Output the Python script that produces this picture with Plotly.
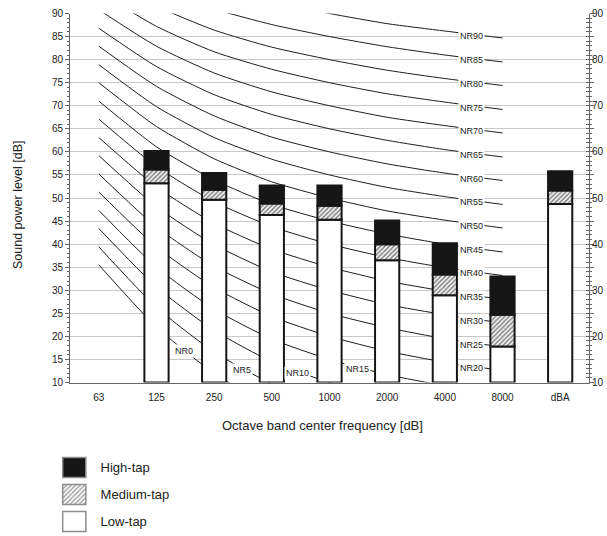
import plotly.graph_objects as go

# ---- data -------------------------------------------------------------
bands = ["63", "125", "250", "500", "1000", "2000", "4000", "8000", "dBA"]

# cumulative sound power level reached by each fan tap [dB]
low_tap = [None, 53.2, 49.6, 46.3, 45.3, 36.5, 28.9, 17.8, 48.7]
medium_tap = [None, 56.2, 51.8, 48.8, 48.3, 40.0, 33.4, 24.7, 51.6]
high_tap = [None, 60.2, 55.4, 52.7, 52.7, 45.1, 40.2, 33.0, 55.8]

legend_names = ["High-tap", "Medium-tap", "Low-tap"]

# Noise Rating (NR) curve table, one list per octave band
nr_levels = [0, 5, 10, 15, 20, 25, 30, 35, 40, 45, 50, 55, 60, 65, 70, 75, 80, 85, 90]
nr_63 = [35.5, 39.4, 43.4, 47.3, 51.3, 55.2, 59.2, 63.1, 67.1, 71.0,
         75.0, 78.9, 82.9, 86.8, 90.8, 94.7, 98.7, 102.6, 106.6]
nr_125 = [22.0, 26.3, 30.7, 35.0, 39.4, 43.7, 48.1, 52.4, 56.8, 61.1,
          65.5, 69.8, 74.2, 78.5, 82.9, 87.2, 91.6, 95.9, 100.3]
nr_250 = [12.0, 16.6, 21.3, 25.9, 30.6, 35.2, 39.9, 44.5, 49.2, 53.9,
          58.5, 63.1, 67.8, 72.4, 77.1, 81.7, 86.4, 91.0, 95.7]
nr_500 = [4.8, 9.7, 14.5, 19.4, 24.3, 29.2, 34.0, 38.9, 43.8, 48.6,
          53.5, 58.4, 63.2, 68.1, 73.0, 77.9, 82.7, 87.6, 92.5]
nr_1000 = [0.0, 5.0, 10.0, 15.0, 20.0, 25.0, 30.0, 35.0, 40.0, 45.0,
           50.0, 55.0, 60.0, 65.0, 70.0, 75.0, 80.0, 85.0, 90.0]
nr_2000 = [-3.5, 1.6, 6.6, 11.7, 16.8, 21.9, 26.9, 32.0, 37.1, 42.2,
           47.2, 52.3, 57.4, 62.5, 67.5, 72.6, 77.7, 82.8, 87.8]
nr_4000 = [-6.1, -1.0, 4.2, 9.3, 14.4, 19.5, 24.7, 29.8, 34.9, 40.0,
           45.2, 50.3, 55.4, 60.5, 65.7, 70.8, 75.9, 81.0, 86.2]
nr_8000 = [-8.0, -2.8, 2.3, 7.4, 12.6, 17.7, 22.9, 28.0, 33.2, 38.3,
           43.5, 48.6, 53.8, 58.9, 64.1, 69.2, 74.4, 79.5, 84.7]

# ---- layout helpers ---------------------------------------------------
W, H = 607, 536
ML, MR, MT, MB = 40, 18, 13, 0
PW, PH = W - ML - MR, H - MT - MB


def px_x(px):
    return (px - ML) / PW


def px_y(py):
    return 1 - (py - MT) / PH


FLOOR, CEIL = 10, 90
FONT = "Liberation Sans, Arial, sans-serif"
INK = "#161616"
AXIS = "#666666"
GRID = "#c8c8c8"

fig = go.Figure()

# ---- NR curves (drawn on the lower axis so the bars cover them) --------
nr_columns = [nr_63, nr_125, nr_250, nr_500, nr_1000, nr_2000, nr_4000, nr_8000]
curve_bands = bands[:8]
label_pos = {0: 1.48, 5: 2.49, 10: 3.44, 15: 4.49}

for k, level in enumerate(nr_levels):
    row = [col[k] for col in nr_columns]
    fig.add_trace(go.Scatter(
        x=curve_bands, y=row, mode="lines",
        line=dict(color="#1e1e1e", width=1, shape="spline", smoothing=0.6),
        xaxis="x", yaxis="y", hoverinfo="skip", showlegend=False,
    ))
    pos = label_pos.get(level, 6.47)
    i = int(pos)
    t = pos - i
    ylab = row[i] + t * (row[i + 1] - row[i])
    fig.add_annotation(
        x=pos, y=ylab, xref="x", yref="y", text=f"NR{level}",
        xanchor="center", yanchor="middle",
        showarrow=False, yshift=-2, bgcolor="white", borderpad=1,
        font=dict(family=FONT, size=9, color="#222"),
    )

# ---- stacked tap bars --------------------------------------------------
idx = [i for i, v in enumerate(low_tap) if v is not None]
cats = [bands[i] for i in idx]
BAR_W = 0.42
bar_line = dict(color=INK, width=2)

fig.add_trace(go.Bar(
    x=cats, y=[low_tap[i] - FLOOR for i in idx], base=FLOOR, width=BAR_W,
    marker=dict(color="white", line=bar_line),
    xaxis="x", yaxis="y2", name="Low-tap", hoverinfo="skip", showlegend=False,
))
fig.add_trace(go.Bar(
    x=cats, y=[medium_tap[i] - low_tap[i] for i in idx],
    base=[low_tap[i] for i in idx], width=BAR_W,
    marker=dict(color="white", line=bar_line,
                pattern=dict(shape="/", fgcolor=INK, bgcolor="white",
                             size=3.2, solidity=0.55)),
    xaxis="x", yaxis="y2", name="Medium-tap", hoverinfo="skip", showlegend=False,
))
fig.add_trace(go.Bar(
    x=cats, y=[high_tap[i] - medium_tap[i] for i in idx],
    base=[medium_tap[i] for i in idx], width=BAR_W,
    marker=dict(color=INK, line=bar_line),
    xaxis="x", yaxis="y2", name="High-tap", hoverinfo="skip", showlegend=False,
))

# ---- legend swatches as a tiny horizontal bar chart ---------------------
fig.add_trace(go.Bar(
    y=legend_names, x=[1, 1, 1], base=0, orientation="h", width=0.74,
    marker=dict(color=[INK, "white", "white"],
                line=dict(color="#8c8c8c", width=1.5),
                pattern=dict(shape=["", "/", ""], fgcolor="#555555",
                             bgcolor="white", size=3.2, solidity=0.45)),
    xaxis="x3", yaxis="y3", hoverinfo="skip", showlegend=False,
))

tick_font = dict(family=FONT, size=10, color="#222")

fig.update_layout(
    width=W, height=H,
    margin=dict(l=ML, r=MR, t=MT, b=MB, autoexpand=False),
    paper_bgcolor="white", plot_bgcolor="white",
    showlegend=False, barmode="overlay",
    font=dict(family=FONT, size=10, color="#222"),
    xaxis=dict(
        domain=[px_x(70), px_x(589)], anchor="y", automargin=False,
        type="category", categoryorder="array", categoryarray=bands,
        range=[-0.5, len(bands) - 0.5],
        showline=True, linecolor=AXIS, linewidth=1, showgrid=False,
        ticks="outside", ticklen=5, tickcolor="rgba(0,0,0,0)",
        tickfont=tick_font,
    ),
    yaxis=dict(
        domain=[px_y(382.5), px_y(13.5)], anchor="x", automargin=False,
        range=[FLOOR, CEIL], dtick=5, tick0=0,
        showgrid=True, gridcolor=GRID, gridwidth=1, zeroline=False,
        showline=True, linecolor=AXIS, linewidth=1, mirror="ticks",
        ticks="outside", ticklen=4, tickcolor=AXIS,
        minor=dict(dtick=1, ticks="outside", ticklen=2, tickcolor=AXIS, showgrid=False),
        tickfont=tick_font,
    ),
    yaxis2=dict(
        overlaying="y", side="right", anchor="x", automargin=False,
        domain=[px_y(382.5), px_y(13.5)],
        range=[FLOOR, CEIL], dtick=10, tick0=0,
        showgrid=False, zeroline=False,
        showline=True, linecolor=AXIS, linewidth=1,
        ticks="inside", ticklen=3, tickcolor=AXIS,
        minor=dict(dtick=1, ticks="inside", ticklen=3, tickcolor=AXIS, showgrid=False),
        tickfont=tick_font,
    ),
    xaxis3=dict(
        domain=[px_x(61.5), px_x(87)], anchor="y3", automargin=False,
        range=[-0.05, 1.05], visible=False, fixedrange=True,
    ),
    yaxis3=dict(
        domain=[px_y(535), px_y(454)], anchor="x3", automargin=False,
        type="category", categoryorder="array",
        categoryarray=legend_names[::-1], range=[-0.5, 2.5],
        side="right", showline=False, showgrid=False, zeroline=False,
        ticks="outside", ticklen=10, tickcolor="rgba(0,0,0,0)",
        tickfont=dict(family=FONT, size=13, color="#222"),
        fixedrange=True,
    ),
)

# axis titles
fig.add_annotation(
    x=px_x(322), y=px_y(425), xref="paper", yref="paper",
    xanchor="center", yanchor="middle",
    text="Octave band center frequency [dB]", showarrow=False,
    font=dict(family=FONT, size=13, color="#222"),
)
fig.add_annotation(
    x=px_x(18), y=px_y(205), xref="paper", yref="paper",
    xanchor="center", yanchor="middle",
    text="Sound power level [dB]", showarrow=False, textangle=-90,
    font=dict(family=FONT, size=12.5, color="#222"),
)

fig.write_html("out.html")
